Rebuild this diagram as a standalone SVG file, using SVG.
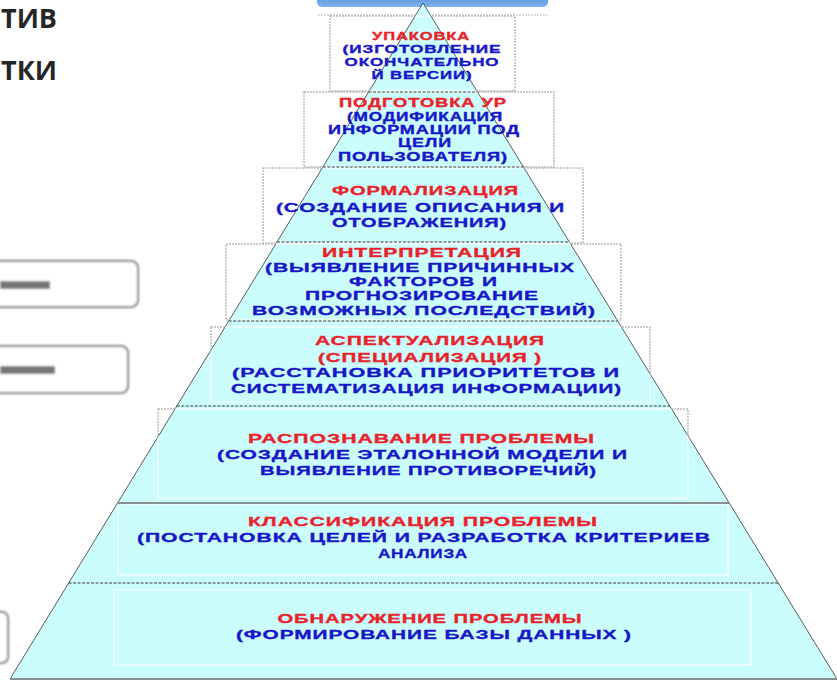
<svg xmlns="http://www.w3.org/2000/svg" width="837" height="682" viewBox="0 0 837 682">
<defs>
<style>
.t{font-family:"Liberation Sans",Arial,sans-serif;font-weight:bold;text-anchor:middle;letter-spacing:0.6px;stroke-width:0.35px}
.r{fill:#e8232b;stroke:#e8232b}
.b{fill:#1717c8;stroke:#1717c8}
.box{fill:#ffffff;stroke:#bcbcbc;stroke-width:1.5;stroke-dasharray:2 1}
.ibox{fill:none;stroke:#ffffff;stroke-width:1.2;opacity:0.85}
.div{stroke:#3a3a3a;stroke-width:1;stroke-dasharray:3 1.5}
.gdiv{stroke:#8a8f90;stroke-width:2}
.side{fill:#ffffff;stroke:#7a7a7a;stroke-width:2}
.head{font-family:"Open Sans","Liberation Sans",sans-serif;font-weight:700;font-size:26px;fill:#262626}
</style>
<clipPath id="pyr"><polygon points="423,3 837,679 10,679"/></clipPath>
<filter id="blur" x="-20%" y="-50%" width="140%" height="200%"><feGaussianBlur stdDeviation="1"/></filter>
<linearGradient id="bar" x1="0" y1="0" x2="0" y2="1"><stop offset="0" stop-color="#4f8fdc"/><stop offset="1" stop-color="#7fb2ec"/></linearGradient>
</defs>
<rect width="837" height="682" fill="#ffffff"/>
<g id="header">
<text class="head" x="1" y="28" textLength="56" lengthAdjust="spacingAndGlyphs">ТИВ</text>
<text class="head" x="1" y="80" textLength="56" lengthAdjust="spacingAndGlyphs">ТКИ</text>
</g>
<g id="side-boxes" filter="url(#blur)">
<rect class="side" x="-12" y="261" width="150" height="46" rx="7"/>
<rect x="0" y="281" width="50" height="8" fill="#777"/>
<rect class="side" x="-12" y="346" width="140" height="47" rx="7"/>
<rect x="0" y="366" width="55" height="8" fill="#777"/>
<rect class="side" x="-12" y="612" width="20" height="51" rx="6"/>
</g>
<rect id="top-bar" x="317" y="-6" width="231" height="13" rx="5" fill="url(#bar)"/>
<line x1="318" y1="15" x2="548" y2="15" stroke="#cfcfcf" stroke-width="1.5" stroke-dasharray="2 1"/>
<g id="boxes">
<rect class="box" x="330" y="16" width="185" height="75"/>
<rect class="box" x="304" y="92" width="250" height="75"/>
<rect class="box" x="263" y="168" width="320" height="75"/>
<rect class="box" x="226" y="244" width="395" height="76"/>
<rect class="box" x="211" y="327" width="439" height="75"/>
<rect class="box" x="158" y="409" width="530" height="89"/>
<rect class="box" x="118" y="504" width="610" height="71"/>
<rect class="box" x="114" y="590" width="637" height="75"/>
</g>
<polygon id="pyramid" points="423,3 837,679 10,679" fill="#ccfdfd" stroke="#4a4a4a" stroke-width="0.9"/>
<g clip-path="url(#pyr)">
<rect class="ibox" x="330" y="16" width="185" height="75"/>
<rect class="ibox" x="304" y="92" width="250" height="75"/>
<rect class="ibox" x="263" y="168" width="320" height="75"/>
<rect class="ibox" x="226" y="244" width="395" height="76"/>
<rect class="ibox" x="211" y="327" width="439" height="75"/>
<rect class="ibox" x="158" y="409" width="530" height="89"/>
<rect class="ibox" x="118" y="504" width="610" height="71"/>
<rect class="ibox" x="114" y="590" width="637" height="75"/>
</g>
<g id="connectors">
<line class="div" x1="368.6" y1="92" x2="477.5" y2="92"/>
<line class="div" x1="322.8" y1="167" x2="523.4" y2="167"/>
<line class="div" x1="277" y1="242" x2="569.4" y2="242"/>
<line class="div" x1="228.7" y1="321" x2="617.7" y2="321"/>
<line class="div" x1="176.8" y1="406" x2="669.8" y2="406"/>
<line class="gdiv" x1="117.5" y1="503" x2="729.2" y2="503"/>
<line class="div" x1="68.6" y1="583" x2="778.2" y2="583"/>
<line class="gdiv" x1="10" y1="679" x2="837" y2="679"/>
</g>
<g id="layer-upakovka" font-size="11">
<text class="t r" x="421" y="40" textLength="98" lengthAdjust="spacingAndGlyphs">УПАКОВКА</text>
<text class="t b" x="422" y="53" textLength="159" lengthAdjust="spacingAndGlyphs">(ИЗГОТОВЛЕНИЕ</text>
<text class="t b" x="422" y="66" textLength="155" lengthAdjust="spacingAndGlyphs">ОКОНЧАТЕЛЬНО</text>
<text class="t b" x="422" y="79" textLength="101" lengthAdjust="spacingAndGlyphs">Й ВЕРСИИ)</text>
</g>
<g id="layer-podgotovka" font-size="12">
<text class="t r" x="423" y="107" textLength="168" lengthAdjust="spacingAndGlyphs">ПОДГОТОВКА УР</text>
<text class="t b" x="425" y="121" textLength="156" lengthAdjust="spacingAndGlyphs">(МОДИФИКАЦИЯ</text>
<text class="t b" x="424" y="134" textLength="192" lengthAdjust="spacingAndGlyphs">ИНФОРМАЦИИ ПОД</text>
<text class="t b" x="425" y="147" textLength="54" lengthAdjust="spacingAndGlyphs">ЦЕЛИ</text>
<text class="t b" x="423" y="161" textLength="170" lengthAdjust="spacingAndGlyphs">ПОЛЬЗОВАТЕЛЯ)</text>
</g>
<g id="layer-formalizatsiya" font-size="13.5">
<text class="t r" x="425.5" y="195" textLength="187" lengthAdjust="spacingAndGlyphs">ФОРМАЛИЗАЦИЯ</text>
<text class="t b" x="420.5" y="212" textLength="289" lengthAdjust="spacingAndGlyphs">(СОЗДАНИЕ ОПИСАНИЯ И</text>
<text class="t b" x="419.5" y="227" textLength="175" lengthAdjust="spacingAndGlyphs">ОТОБРАЖЕНИЯ)</text>
</g>
<g id="layer-interpretatsiya" font-size="13.5">
<text class="t r" x="422" y="257" textLength="200" lengthAdjust="spacingAndGlyphs">ИНТЕРПРЕТАЦИЯ</text>
<text class="t b" x="420" y="272" textLength="310" lengthAdjust="spacingAndGlyphs">(ВЫЯВЛЕНИЕ ПРИЧИННЫХ</text>
<text class="t b" x="423.5" y="286" textLength="149" lengthAdjust="spacingAndGlyphs">ФАКТОРОВ И</text>
<text class="t b" x="422" y="300" textLength="234" lengthAdjust="spacingAndGlyphs">ПРОГНОЗИРОВАНИЕ</text>
<text class="t b" x="424" y="315" textLength="344" lengthAdjust="spacingAndGlyphs">ВОЗМОЖНЫХ ПОСЛЕДСТВИЙ)</text>
</g>
<g id="layer-aspektualizatsiya" font-size="13.5">
<text class="t r" x="430" y="345" textLength="230" lengthAdjust="spacingAndGlyphs">АСПЕКТУАЛИЗАЦИЯ</text>
<text class="t r" x="430" y="362" textLength="224" lengthAdjust="spacingAndGlyphs">(СПЕЦИАЛИЗАЦИЯ )</text>
<text class="t b" x="426" y="377" textLength="388" lengthAdjust="spacingAndGlyphs">(РАССТАНОВКА ПРИОРИТЕТОВ И</text>
<text class="t b" x="426.5" y="393" textLength="391" lengthAdjust="spacingAndGlyphs">СИСТЕМАТИЗАЦИЯ ИНФОРМАЦИИ)</text>
</g>
<g id="layer-raspoznavanie" font-size="13.5">
<text class="t r" x="421.5" y="443" textLength="347" lengthAdjust="spacingAndGlyphs">РАСПОЗНАВАНИЕ ПРОБЛЕМЫ</text>
<text class="t b" x="422.5" y="459" textLength="411" lengthAdjust="spacingAndGlyphs">(СОЗДАНИЕ ЭТАЛОННОЙ МОДЕЛИ И</text>
<text class="t b" x="428.5" y="475" textLength="337" lengthAdjust="spacingAndGlyphs">ВЫЯВЛЕНИЕ ПРОТИВОРЕЧИЙ)</text>
</g>
<g id="layer-klassifikatsiya" font-size="13.5">
<text class="t r" x="423" y="526" textLength="350" lengthAdjust="spacingAndGlyphs">КЛАССИФИКАЦИЯ ПРОБЛЕМЫ</text>
<text class="t b" x="424" y="542" textLength="574" lengthAdjust="spacingAndGlyphs">(ПОСТАНОВКА ЦЕЛЕЙ И РАЗРАБОТКА КРИТЕРИЕВ</text>
<text class="t b" x="423" y="558" textLength="90" lengthAdjust="spacingAndGlyphs">АНАЛИЗА</text>
</g>
<g id="layer-obnaruzhenie" font-size="13.5">
<text class="t r" x="430" y="623" textLength="305" lengthAdjust="spacingAndGlyphs">ОБНАРУЖЕНИЕ ПРОБЛЕМЫ</text>
<text class="t b" x="434" y="639" textLength="396" lengthAdjust="spacingAndGlyphs">(ФОРМИРОВАНИЕ БАЗЫ ДАННЫХ )</text>
</g>
</svg>
